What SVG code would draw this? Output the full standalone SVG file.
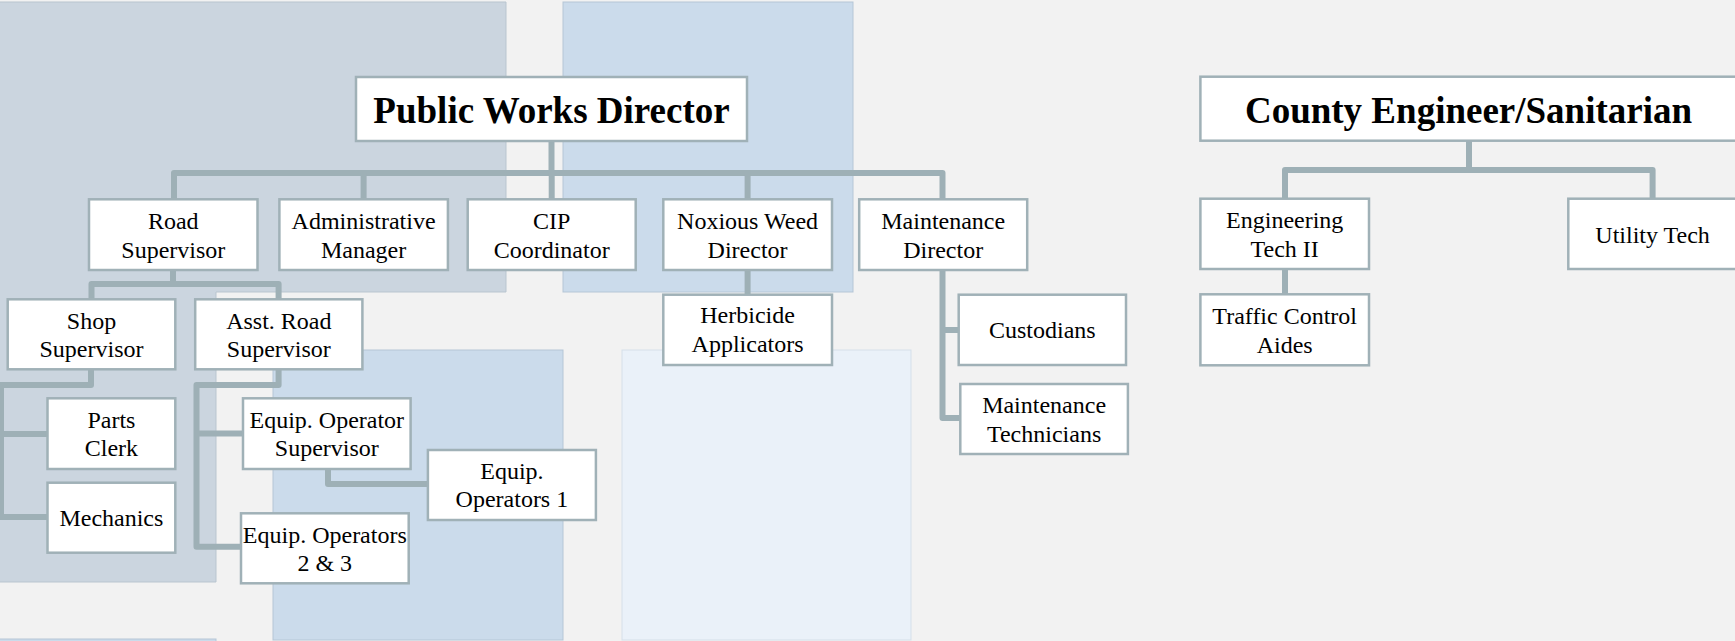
<svg xmlns="http://www.w3.org/2000/svg" width="1735" height="641" viewBox="0 0 1735 641">
<style>
.bg{fill:#f2f2f2}
.p1{fill:#cbd5df;stroke:#b9c5cf;stroke-width:1}
.p2{fill:#cbdbeb;stroke:#b5c6d6;stroke-width:1}
.p3{fill:#eaf1f9;stroke:#d5dfe9;stroke-width:1}
.box{fill:#ffffff;stroke:#a0b1b7;stroke-width:2.5}
.t{font-family:"Liberation Serif","Times New Roman",serif;font-size:24px;fill:#000;text-anchor:middle}
.h{font-family:"Liberation Serif","Times New Roman",serif;font-size:37px;font-weight:bold;fill:#000;text-anchor:middle}
.c{fill:none;stroke:#9eb0b6;stroke-width:6;stroke-linejoin:round;stroke-linecap:butt}
</style>
<rect class="bg" x="0" y="0" width="1735" height="641"/>
<g id="panels">
<path class="p1" d="M-1,2 H506 V292 H216 V582 H-1 Z"/>
<rect class="p2" x="563" y="2" width="290" height="290"/>
<rect class="p2" x="273" y="350" width="290" height="290"/>
<rect class="p3" x="622" y="350" width="289" height="290"/>
<rect class="p2" x="-1" y="639" width="217" height="5"/>
</g>
<g id="connectors">
<path class="c" d="M551.5,141 V173"/>
<path class="c" d="M174,199 V173 H942.5 V199"/>
<path class="c" d="M363.6,173 V199"/>
<path class="c" d="M551.7,173 V199"/>
<path class="c" d="M747.6,173 V199"/>
<path class="c" d="M173,270 V284"/>
<path class="c" d="M91.5,299 V284 H278.6 V299"/>
<path class="c" d="M91,369 V385 H1 V517 H47.5"/>
<path class="c" d="M1,434 H47.5"/>
<path class="c" d="M278.6,369 V385 H196.5 V546.7 H241"/>
<path class="c" d="M196.5,433.5 H243"/>
<path class="c" d="M328,469 V484 H428"/>
<path class="c" d="M747.6,270 V294.7"/>
<path class="c" d="M942.5,270 V418 H960"/>
<path class="c" d="M942.5,330 H958.7"/>
<path class="c" d="M1469,141 V170"/>
<path class="c" d="M1285,199 V170 H1652.6 V199"/>
<path class="c" d="M1285,269 V294.3"/>
</g>
<g id="public-works-director">
<rect class="box" x="356" y="77" width="391" height="64"/>
<text class="h" x="551.5" y="123">Public Works Director</text>
</g>
<g id="road-supervisor">
<rect class="box" x="89" y="199.3" width="168.5" height="70.7"/>
<text class="t" x="173.3" y="229">Road</text>
<text class="t" x="173.3" y="258">Supervisor</text>
</g>
<g id="administrative-manager">
<rect class="box" x="279.4" y="199.3" width="168.5" height="70.7"/>
<text class="t" x="363.6" y="229">Administrative</text>
<text class="t" x="363.6" y="258">Manager</text>
</g>
<g id="cip-coordinator">
<rect class="box" x="467.7" y="199.3" width="168" height="70.7"/>
<text class="t" x="551.7" y="229">CIP</text>
<text class="t" x="551.7" y="258">Coordinator</text>
</g>
<g id="noxious-weed-director">
<rect class="box" x="663.3" y="199.3" width="168.7" height="70.7"/>
<text class="t" x="747.6" y="229">Noxious Weed</text>
<text class="t" x="747.6" y="258">Director</text>
</g>
<g id="maintenance-director">
<rect class="box" x="859.2" y="199.3" width="168" height="70.7"/>
<text class="t" x="943.2" y="229">Maintenance</text>
<text class="t" x="943.2" y="258">Director</text>
</g>
<g id="shop-supervisor">
<rect class="box" x="7.7" y="299.3" width="167.6" height="70"/>
<text class="t" x="91.5" y="329.3">Shop</text>
<text class="t" x="91.5" y="356.7">Supervisor</text>
</g>
<g id="asst-road-supervisor">
<rect class="box" x="195.2" y="299.3" width="167.2" height="70"/>
<text class="t" x="278.8" y="329.3">Asst. Road</text>
<text class="t" x="278.8" y="356.7">Supervisor</text>
</g>
<g id="parts-clerk">
<rect class="box" x="47.5" y="398.3" width="127.8" height="70.7"/>
<text class="t" x="111.4" y="427.7">Parts</text>
<text class="t" x="111.4" y="456">Clerk</text>
</g>
<g id="mechanics">
<rect class="box" x="47.5" y="482.7" width="127.8" height="70"/>
<text class="t" x="111.4" y="525.7">Mechanics</text>
</g>
<g id="equip-operator-supervisor">
<rect class="box" x="243" y="398.3" width="167.6" height="70.7"/>
<text class="t" x="326.8" y="427.7">Equip. Operator</text>
<text class="t" x="326.8" y="456">Supervisor</text>
</g>
<g id="equip-operators-1">
<rect class="box" x="427.9" y="450" width="168" height="70"/>
<text class="t" x="511.9" y="479.3">Equip.</text>
<text class="t" x="511.9" y="506.7">Operators 1</text>
</g>
<g id="equip-operators-2-3">
<rect class="box" x="241" y="513.3" width="167.7" height="70"/>
<text class="t" x="324.8" y="543.3">Equip. Operators</text>
<text class="t" x="324.8" y="570.7">2 &amp; 3</text>
</g>
<g id="herbicide-applicators">
<rect class="box" x="663.3" y="294.7" width="168.7" height="70.3"/>
<text class="t" x="747.6" y="323.3">Herbicide</text>
<text class="t" x="747.6" y="351.7">Applicators</text>
</g>
<g id="custodians">
<rect class="box" x="958.7" y="294.7" width="167.3" height="70.3"/>
<text class="t" x="1042.3" y="338.3">Custodians</text>
</g>
<g id="maintenance-technicians">
<rect class="box" x="960.3" y="384" width="167.6" height="70"/>
<text class="t" x="1044.1" y="412.7">Maintenance</text>
<text class="t" x="1044.1" y="441.7">Technicians</text>
</g>
<g id="county-engineer-sanitarian">
<rect class="box" x="1200.4" y="76.7" width="537" height="64"/>
<text class="h" x="1468.5" y="123">County Engineer/Sanitarian</text>
</g>
<g id="engineering-tech-ii">
<rect class="box" x="1200.4" y="198.7" width="168.6" height="70.3"/>
<text class="t" x="1284.7" y="228">Engineering</text>
<text class="t" x="1284.7" y="257">Tech II</text>
</g>
<g id="traffic-control-aides">
<rect class="box" x="1200.4" y="294.3" width="168.6" height="71"/>
<text class="t" x="1284.7" y="324">Traffic Control</text>
<text class="t" x="1284.7" y="352.7">Aides</text>
</g>
<g id="utility-tech">
<rect class="box" x="1568.3" y="198.7" width="169" height="70.3"/>
<text class="t" x="1652.6" y="242.7">Utility Tech</text>
</g>
</svg>
